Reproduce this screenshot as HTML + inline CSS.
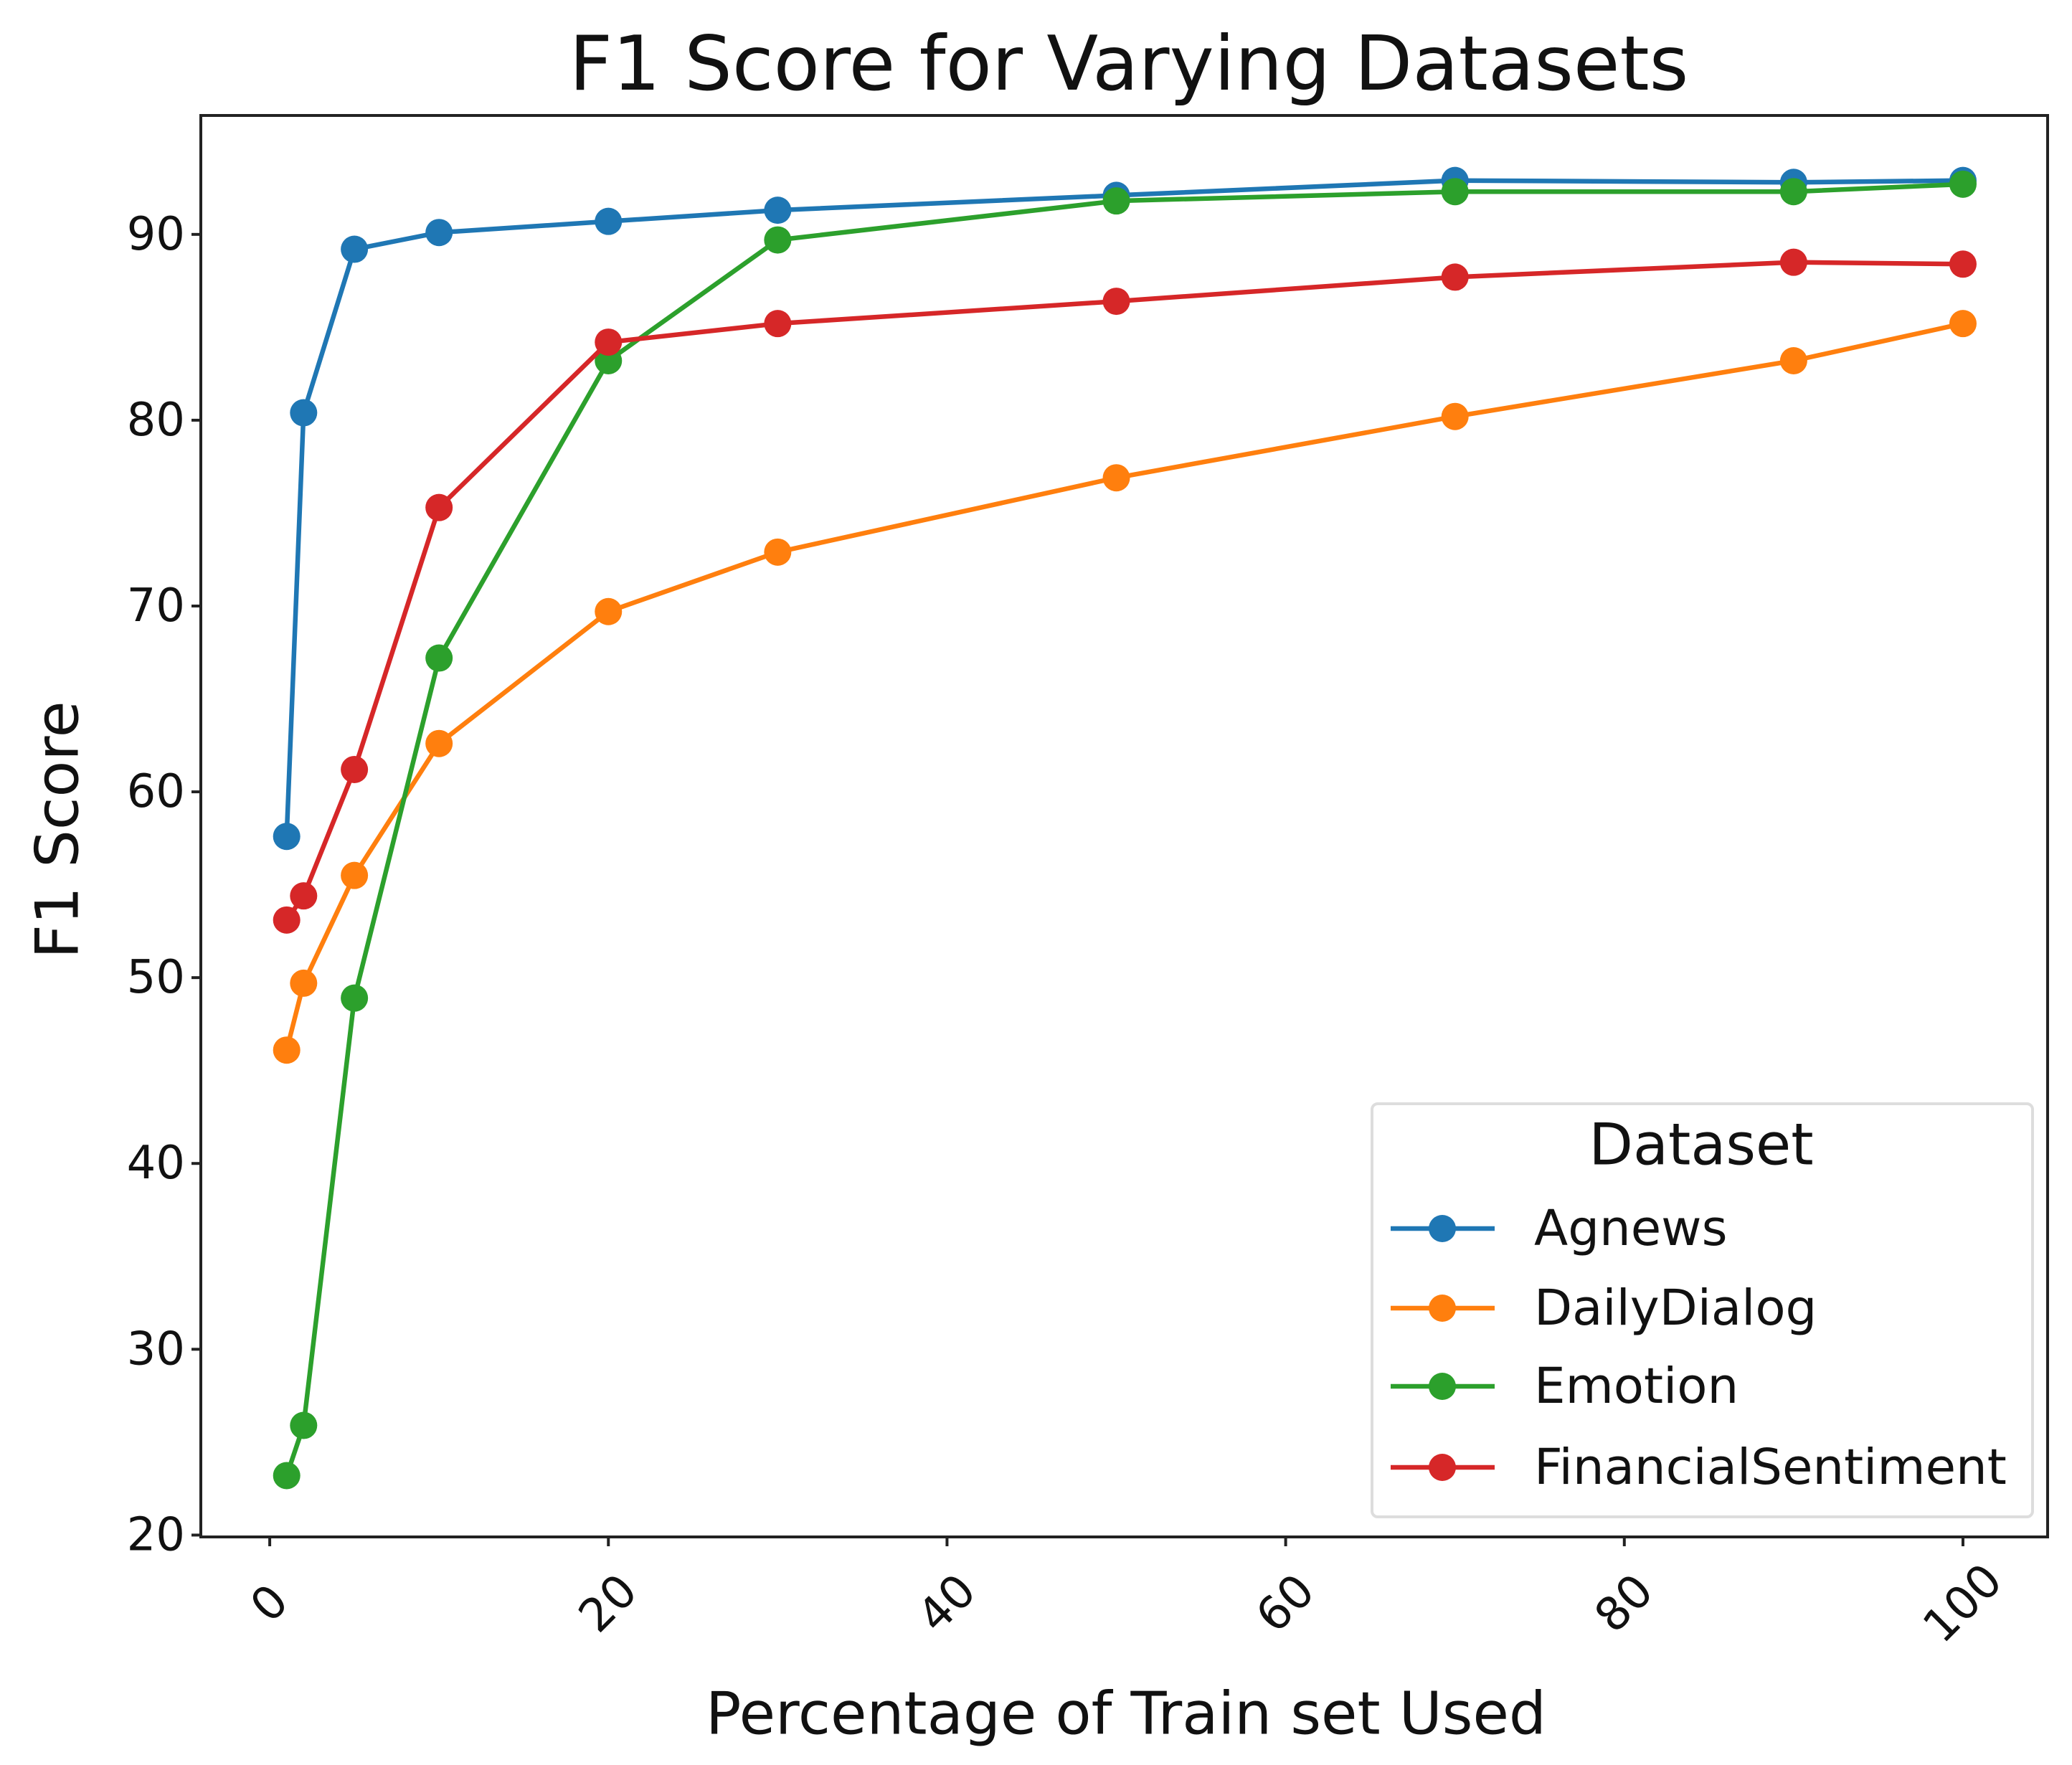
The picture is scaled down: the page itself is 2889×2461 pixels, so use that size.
<!DOCTYPE html>
<html><head><meta charset="utf-8"><style>html,body{margin:0;padding:0;background:#fff}svg{display:block}text{font-family:"DejaVu Sans","Liberation Sans",sans-serif;fill:#111}</style></head>
<body>
<svg id="chart" width="2889" height="2461" viewBox="0 0 2889 2461" xmlns="http://www.w3.org/2000/svg">
<text x="1574" y="89" font-size="105" text-anchor="middle" dominant-baseline="central">F1 Score for Varying Datasets</text>
<g id="plot"></g>
<text x="1570" y="2390" font-size="82" text-anchor="middle" dominant-baseline="central">Percentage of Train set Used</text>
<text x="80" y="1157" font-size="83" text-anchor="middle" dominant-baseline="central" transform="rotate(-90 80 1157)">F1 Score</text>
</svg>
<script>
const xValues = [1, 2, 5, 10, 20, 30, 50, 70, 90, 100];
const agnews = [57.6, 80.4, 89.2, 90.1, 90.7, 91.3, 92.1, 92.9, 92.8, 92.9];
const dailyDialog = [46.1, 49.7, 55.5, 62.6, 69.7, 72.9, 76.9, 80.2, 83.2, 85.2];
const emotion = [23.2, 25.9, 48.9, 67.2, 83.2, 89.7, 91.8, 92.3, 92.3, 92.7];
const financial = [53.1, 54.4, 61.2, 75.3, 84.2, 85.2, 86.4, 87.7, 88.5, 88.4];
const seriesNames = ["Agnews", "DailyDialog", "Emotion", "FinancialSentiment"];
const xTicks = [0, 20, 40, 60, 80, 100];
const yTicks = [20, 30, 40, 50, 60, 70, 80, 90];

const NS = "http://www.w3.org/2000/svg";
const L = 280, R = 2855, T = 161, B = 2143;
const xMin = -4.07, xMax = 105.0, yMin = 19.9, yMax = 96.4;
const sx = v => L + (v - xMin) / (xMax - xMin) * (R - L);
const sy = v => B - (v - yMin) / (yMax - yMin) * (B - T);
const colors = ["#1f77b4", "#ff7f0e", "#2ca02c", "#d62728"];
const allSeries = [agnews, dailyDialog, emotion, financial];
const plot = document.getElementById("plot");
function mk(tag, attrs, parent) {
  const e = document.createElementNS(NS, tag);
  for (const k in attrs) e.setAttribute(k, attrs[k]);
  (parent || plot).appendChild(e);
  return e;
}
yTicks.forEach(t => {
  const g = mk("g", {});
  
  
  mk("line", {x1: L - 13, x2: L, y1: sy(t), y2: sy(t), stroke: "#222", "stroke-width": 4}, g);
  const tx = mk("text", {x: L - 22, y: sy(t), "font-size": 64, "text-anchor": "end", "dominant-baseline": "central"}, g);
  tx.textContent = t;
});
xTicks.forEach(t => {
  const g = mk("g", {});
  
  
  mk("line", {x1: sx(t), x2: sx(t), y1: B, y2: B + 13, stroke: "#222", "stroke-width": 4}, g);
  const cx = sx(t), cy = 2236;
  const tx = mk("text", {x: cx, y: cy, "font-size": 64, "text-anchor": "middle", "dominant-baseline": "central", transform: `rotate(-45 ${cx} ${cy})`}, g);
  tx.textContent = t;
});
allSeries.forEach((vals, i) => {
  const g = mk("g", {});
  
  
  const pts = vals.map((v, j) => sx(xValues[j]) + "," + sy(v)).join(" ");
  mk("polyline", {points: pts, fill: "none", stroke: colors[i], "stroke-width": 6.5, "stroke-linejoin": "round"}, g);
  vals.forEach((v, j) => {
    const c = mk("circle", {cx: sx(xValues[j]), cy: sy(v), r: 19, fill: colors[i]}, g);
    
    
  });
});
const frame = mk("rect", {x: L, y: T, width: R - L, height: B - T, fill: "none", stroke: "#222", "stroke-width": 4});


const lg = mk("g", {});


mk("rect", {x: 1913, y: 1539, width: 921, height: 576, rx: 8, fill: "#fff", stroke: "#ddd", "stroke-width": 4}, lg);
const lt = mk("text", {x: 2372, y: 1596, "font-size": 80, "text-anchor": "middle", "dominant-baseline": "central"}, lg);


lt.textContent = "Dataset";
const ly = [1713, 1824, 1933, 2046];
seriesNames.forEach((n, i) => {
  const e = mk("g", {}, lg);
  
  
  mk("line", {x1: 1939, x2: 2084, y1: ly[i], y2: ly[i], stroke: colors[i], "stroke-width": 6.5}, e);
  mk("circle", {cx: 2011, cy: ly[i], r: 19, fill: colors[i]}, e);
  const t = mk("text", {x: 2139, y: ly[i], "font-size": 69, "dominant-baseline": "central"}, e);
  t.textContent = n;
});
</script>
</body></html>
